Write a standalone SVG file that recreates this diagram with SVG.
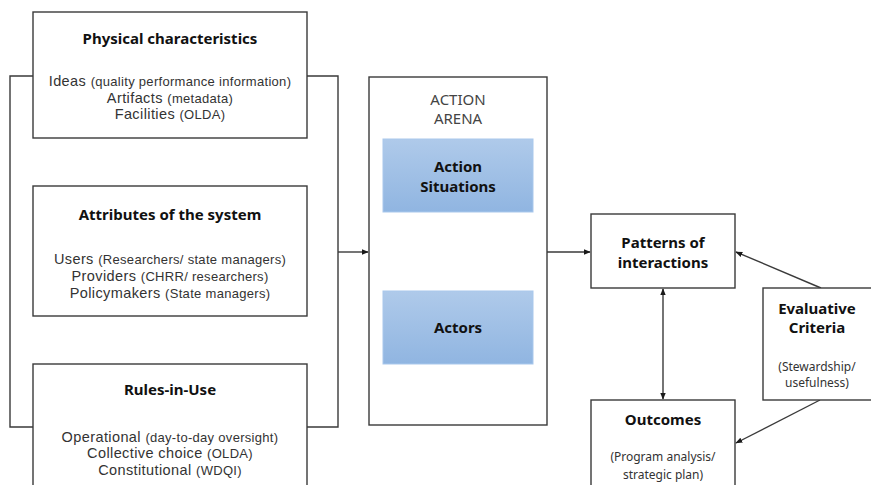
<svg xmlns="http://www.w3.org/2000/svg" width="871" height="485" viewBox="0 0 871 485">
<defs>
<linearGradient id="blue" x1="0" y1="0" x2="0" y2="1">
<stop offset="0" stop-color="#afcaea"/>
<stop offset="1" stop-color="#90b5e1"/>
</linearGradient>
<marker id="arr" viewBox="0 0 10 10" refX="9" refY="5" markerWidth="7" markerHeight="7" orient="auto-start-reverse" markerUnits="userSpaceOnUse">
<path d="M0,1 L10,5 L0,9 Z" fill="#1a1a1a"/>
</marker>
<style>
.box{fill:#fff;stroke:#3a3a3a;stroke-width:1.4}
.inner{fill:url(#blue);stroke:#a9c8ec;stroke-width:1}
.ln{fill:none;stroke:#3a3a3a;stroke-width:1.4}
text{font-family:"Noto Sans","Open Sans","DejaVu Sans",sans-serif;text-anchor:middle;fill:#333}
.t{font-weight:bold;font-size:15px;fill:#111}
.b{font-family:"Liberation Sans",Arial,sans-serif}
.m{font-size:14.5px;letter-spacing:0.4px}
.s{font-size:12px}
.p{font-size:13px;letter-spacing:0.3px}
.h{font-size:15px;fill:#444}
</style>
</defs>
<rect width="871" height="485" fill="#fff"/>
<g id="connectors">
<path class="ln" d="M33,76 H10 V427 H33"/>
<path class="ln" d="M307,76 H338 V427 H307"/>
<path class="ln" d="M338,252 H368" marker-end="url(#arr)"/>
<path class="ln" d="M547,252 H590" marker-end="url(#arr)"/>
<path class="ln" d="M663,289 V399" marker-start="url(#arr)" marker-end="url(#arr)"/>
<path class="ln" d="M821,288 L736,252" marker-end="url(#arr)"/>
<path class="ln" d="M820,400 L736,443" marker-end="url(#arr)"/>
</g>
<g id="physical">
<rect class="box" x="33" y="12" width="274" height="126"/>
<text class="t" x="170" y="44">Physical characteristics</text>
<text class="b" x="170" y="86"><tspan class="m">Ideas </tspan><tspan class="p">(quality performance information)</tspan></text>
<text class="b" x="170" y="103"><tspan class="m">Artifacts </tspan><tspan class="p">(metadata)</tspan></text>
<text class="b" x="170" y="119"><tspan class="m">Facilities </tspan><tspan class="p">(OLDA)</tspan></text>
</g>
<g id="attributes">
<rect class="box" x="33" y="186" width="274" height="130"/>
<text class="t" x="170" y="220">Attributes of the system</text>
<text class="b" x="170" y="264"><tspan class="m">Users </tspan><tspan class="p">(Researchers/ state managers)</tspan></text>
<text class="b" x="170" y="281"><tspan class="m">Providers </tspan><tspan class="p">(CHRR/ researchers)</tspan></text>
<text class="b" x="170" y="298"><tspan class="m">Policymakers </tspan><tspan class="p">(State managers)</tspan></text>
</g>
<g id="rules">
<rect class="box" x="33" y="364" width="274" height="140"/>
<text class="t" x="170" y="395">Rules-in-Use</text>
<text class="b" x="170" y="442"><tspan class="m">Operational </tspan><tspan class="p">(day-to-day oversight)</tspan></text>
<text class="b" x="170" y="458"><tspan class="m">Collective choice </tspan><tspan class="p">(OLDA)</tspan></text>
<text class="b" x="170" y="475"><tspan class="m">Constitutional </tspan><tspan class="p">(WDQI)</tspan></text>
</g>
<g id="arena">
<rect class="box" x="369" y="77" width="178" height="348"/>
<text class="h" x="458" y="105">ACTION</text>
<text class="h" x="458" y="124">ARENA</text>
</g>
<g id="action-situations">
<rect class="inner" x="383" y="139" width="150" height="73"/>
<text class="t" x="458" y="172">Action</text>
<text class="t" x="458" y="192">Situations</text>
</g>
<g id="actors">
<rect class="inner" x="383" y="291" width="150" height="73"/>
<text class="t" x="458" y="333">Actors</text>
</g>
<g id="patterns">
<rect class="box" x="591" y="214" width="144" height="74"/>
<text class="t" x="663" y="248">Patterns of</text>
<text class="t" x="663" y="268">interactions</text>
</g>
<g id="outcomes">
<rect class="box" x="591" y="400" width="144" height="100"/>
<text class="t" x="663" y="425">Outcomes</text>
<text class="s" x="663" y="461">(Program analysis/</text>
<text class="s" x="663" y="479">strategic plan)</text>
</g>
<g id="evaluative">
<rect class="box" x="763" y="288" width="120" height="112"/>
<text class="t" x="817" y="314">Evaluative</text>
<text class="t" x="817" y="333">Criteria</text>
<text class="s" x="817" y="371">(Stewardship/</text>
<text class="s" x="817" y="387">usefulness)</text>
</g>
</svg>
